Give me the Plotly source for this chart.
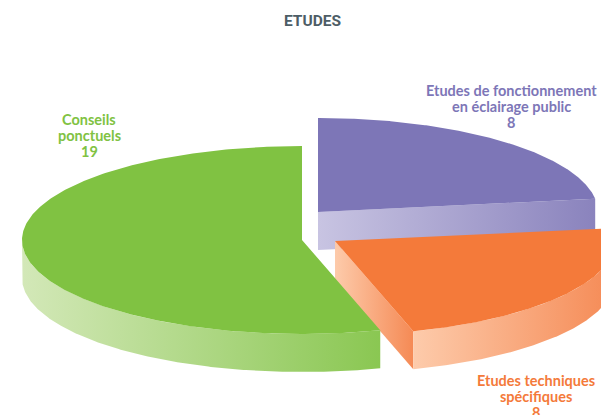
import numpy as np
import plotly.graph_objects as go

# Data
categories = ["Etudes de fonctionnement|en éclairage public", "Etudes techniques|spécifiques", "Conseils|ponctuels"]
values = [8, 8, 19]
title_text = "ETUDES"

# Style / layout constants
W, H = 601, 415
RX, RY, DEPTH = 280, 94, 38
centers = [(318, 212), (335, 241), (302, 240)]
angle_nudge = [-0.4, -0.8, 0.0]
top_colors = ["#7d76b7", "#f47a3a", "#80c242"]
wall_colors = [("#c8c4e2", "#8a83bd"), ("#fdcbab", "#f58a55"), ("#d3e8b8", "#8ac752")]
text_colors = ["#7d76b7", "#f47a3a", "#80c242"]
label_pos = [(511, 90), (536, 380), (89, 119)]
LINE_STEP = 16
FONT = "Lato"

fig = go.Figure()


def pt(c, ang):
    a = np.radians(ang)
    return c[0] + RX * np.sin(a), c[1] - RY * np.cos(a)


def poly(xs, ys, color=None, grad=None):
    kw = dict(fillcolor=color) if color else dict(
        fillgradient=dict(type="horizontal", colorscale=[[0, grad[0]], [1, grad[1]]]))
    fig.add_trace(go.Scatter(x=list(xs), y=list(ys), mode="lines", fill="toself",
                             line=dict(width=0), hoverinfo="skip", showlegend=False, **kw))


total = sum(values)
cum = 0.0
start = 0.0
for i, v in enumerate(values):
    cum += v
    end = 360 * cum / total + angle_nudge[i]
    c = centers[i]
    # Side walls visible from the viewpoint
    if i < 2:  # straight cut face at the end of the slice
        ex, ey = pt(c, end)
        poly([c[0], ex, ex, c[0], c[0]], [c[1], ey, ey + DEPTH, c[1] + DEPTH, c[1]], grad=wall_colors[i])
    vis_a, vis_b = max(start, 90), min(end, 270)
    if i > 0 and vis_b > vis_a:
        t = np.linspace(vis_a, vis_b, 200)
        xs, ys = pt(c, t)
        poly(np.r_[xs, xs[::-1]], np.r_[ys, ys[::-1] + DEPTH], grad=wall_colors[i])
    # Top face
    t = np.linspace(start, end, 300)
    xs, ys = pt(c, t)
    poly(np.r_[c[0], xs, c[0]], np.r_[c[1], ys, c[1]], color=top_colors[i])
    start = end

annotations = []
for name, v, (lx, ly), col in zip(categories, values, label_pos, text_colors):
    for k, line in enumerate(name.split("|") + [str(v)]):
        annotations.append(dict(x=lx, y=ly + k * LINE_STEP, xref="x", yref="y", text=f"<b>{line}</b>",
                                showarrow=False, font=dict(family=FONT, size=14.5, color=col)))
annotations.append(dict(x=312.5, y=21, xref="x", yref="y", text=f"<b>{title_text}</b>",
                        showarrow=False, font=dict(family="Roboto", size=15.5, color="#4d5d66")))

fig.update_layout(
    width=W, height=H, margin=dict(l=0, r=0, t=0, b=0), autosize=False,
    paper_bgcolor="white", plot_bgcolor="white", showlegend=False,
    xaxis=dict(range=[0, W], visible=False, fixedrange=True),
    yaxis=dict(range=[H, 0], visible=False, fixedrange=True),
    annotations=annotations,
)
fig.write_html("out.html", config=dict(displayModeBar=False),
               post_script="document.body.style.margin='0';document.body.style.overflow='hidden';")
